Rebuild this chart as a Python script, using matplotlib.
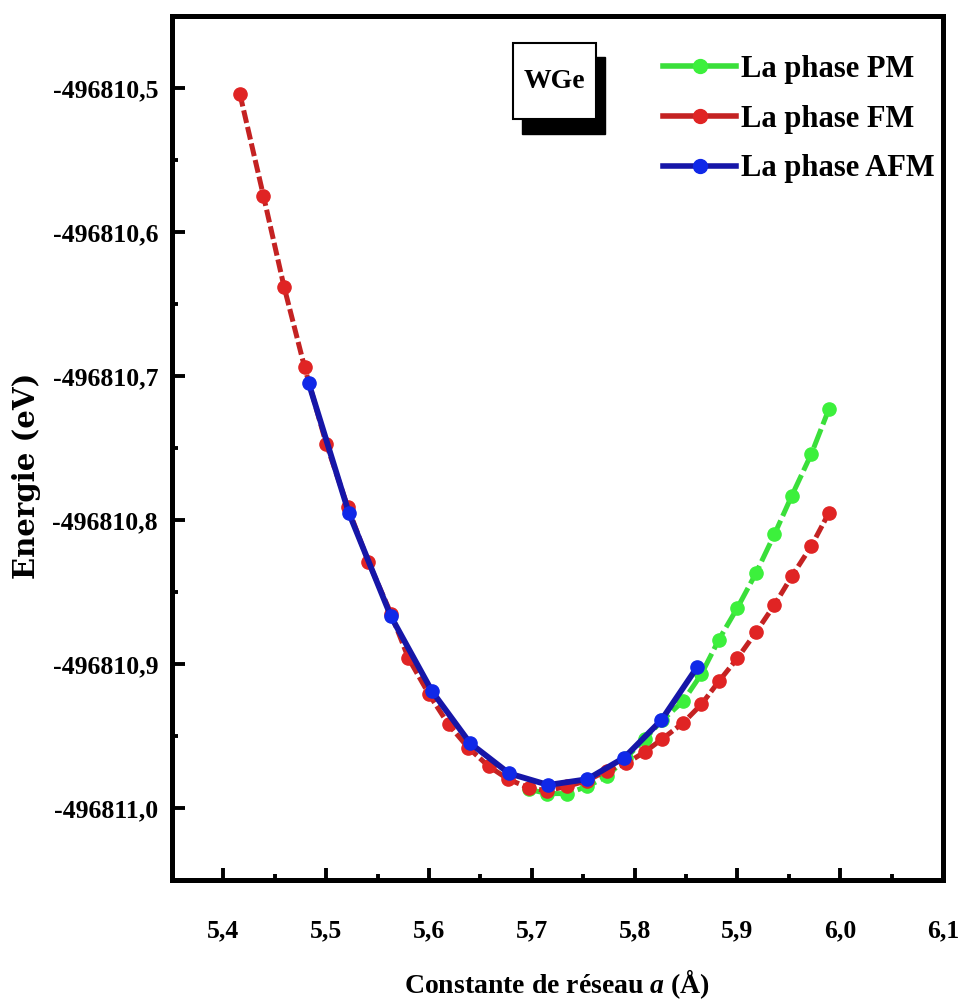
import numpy as np
import matplotlib
matplotlib.use("Agg")
import matplotlib.pyplot as plt
from matplotlib.lines import Line2D
from matplotlib.patches import Rectangle
from matplotlib.ticker import MultipleLocator, FuncFormatter

# donnees (a en Angstrom, E en eV)
a_fm = [5.416, 5.439, 5.459, 5.479, 5.500, 5.521, 5.541, 5.563, 5.580, 5.600,
        5.619, 5.638, 5.658, 5.677, 5.697, 5.715, 5.734, 5.754, 5.773, 5.792,
        5.810, 5.827, 5.847, 5.865, 5.882, 5.900, 5.918, 5.936, 5.953, 5.972, 5.989]
e_fm = [-496810.504, -496810.575, -496810.638, -496810.694, -496810.747, -496810.791,
        -496810.829, -496810.865, -496810.896, -496810.921, -496810.942, -496810.958,
        -496810.971, -496810.980, -496810.986, -496810.988, -496810.985, -496810.981,
        -496810.974, -496810.969, -496810.961, -496810.952, -496810.941, -496810.928,
        -496810.912, -496810.896, -496810.878, -496810.859, -496810.839, -496810.818,
        -496810.795]

a_pm = [5.697, 5.715, 5.734, 5.754, 5.773, 5.792, 5.810, 5.827, 5.847, 5.865,
        5.882, 5.900, 5.918, 5.936, 5.953, 5.972, 5.989]
e_pm = [-496810.987, -496810.990, -496810.990, -496810.985, -496810.978, -496810.965,
        -496810.952, -496810.939, -496810.926, -496810.907, -496810.883, -496810.861,
        -496810.837, -496810.810, -496810.783, -496810.754, -496810.723]

a_afm = [5.483, 5.522, 5.563, 5.603, 5.640, 5.678, 5.716, 5.754, 5.790, 5.826, 5.861]
e_afm = [-496810.705, -496810.795, -496810.867, -496810.919, -496810.955, -496810.976,
         -496810.984, -496810.980, -496810.965, -496810.939, -496810.902]

labels = ["La phase PM", "La phase FM", "La phase AFM"]

plt.rcParams['font.family'] = ['Liberation Serif', 'DejaVu Serif']
plt.rcParams['font.weight'] = 'bold'
plt.rcParams['mathtext.fontset'] = 'custom'
plt.rcParams['mathtext.rm'] = 'Liberation Serif:weight=bold'
plt.rcParams['mathtext.it'] = 'Liberation Serif:style=italic:weight=bold'
plt.rcParams['mathtext.bf'] = 'Liberation Serif:weight=bold'

fig = plt.figure(figsize=(9.6, 10.07), dpi=100)
ax = fig.add_axes([172/960, 1-880/1007, (943-172)/960, (880-16)/1007])

green, green_m = '#3adf3a', '#3cf03c'
red, red_m = '#c42222', '#e02424'
blue, blue_m = '#1616a8', '#1028e8'

ax.plot(a_pm, e_pm, color=green, lw=3.6, dashes=(4, 1), marker='o', ms=9.5,
        mfc=green_m, mec=green_m, zorder=2)
ax.plot(a_fm, e_fm, color=red, lw=3.6, dashes=(2.6, 0.8), marker='o', ms=9.5,
        mfc=red_m, mec=red_m, zorder=3)
ax.plot(a_afm, e_afm, color=blue, lw=4.2, marker='o', ms=9.5,
        mfc=blue_m, mec=blue_m, zorder=4)

ax.set_xlim(5.35, 6.1)
ax.set_ylim(-496811.05, -496810.45)

fmt = FuncFormatter(lambda v, p: ("%.1f" % v).replace('.', ','))
ax.xaxis.set_major_locator(MultipleLocator(0.1))
ax.xaxis.set_minor_locator(MultipleLocator(0.05))
ax.yaxis.set_major_locator(MultipleLocator(0.1))
ax.yaxis.set_minor_locator(MultipleLocator(0.05))
ax.xaxis.set_major_formatter(fmt)
ax.yaxis.set_major_formatter(fmt)
ax.tick_params(which='both', direction='in', top=False, right=False, labelsize=18.5)
ax.tick_params(which='major', length=9, width=2.8)
ax.tick_params(which='minor', length=4.5, width=2.8)
ax.tick_params(axis='y', pad=10)
ax.tick_params(axis='x', pad=28)
for s in ax.spines.values():
    s.set_linewidth(3.6)

ax.set_xlabel(r"Constante de réseau $\mathit{a}$ (Å)", fontsize=20, fontweight='bold',
              labelpad=18)
fig.text(27/960, 1-476/1007, "Energie (eV)", rotation=90, ha='center', va='center',
         fontsize=21, family='DejaVu Serif', fontweight='bold')

# boite WGe avec ombre
ax.add_patch(Rectangle((0.454, 0.864), 0.1076, 0.0881, transform=ax.transAxes,
                       fc='black', ec='black', zorder=5))
ax.add_patch(Rectangle((0.4423, 0.8805), 0.1076, 0.0882, transform=ax.transAxes,
                       fc='white', ec='black', lw=1.5, zorder=6))
ax.text(0.4961, 0.9246, "WGe", transform=ax.transAxes, fontsize=20,
        ha='center', va='center', zorder=7)

handles = [Line2D([], [], color=green, lw=4, marker='o', ms=10, mfc=green_m, mec=green_m),
           Line2D([], [], color=red, lw=4, marker='o', ms=10, mfc=red_m, mec=red_m),
           Line2D([], [], color=blue, lw=4, marker='o', ms=10, mfc=blue_m, mec=blue_m)]
ax.legend(handles, labels, loc='upper left', bbox_to_anchor=(0.637, 0.955),
          frameon=False, fontsize=22, handlelength=2.4, handletextpad=0.15,
          labelspacing=0.68, borderpad=0, borderaxespad=0)

fig.savefig("out.png", dpi=100)
